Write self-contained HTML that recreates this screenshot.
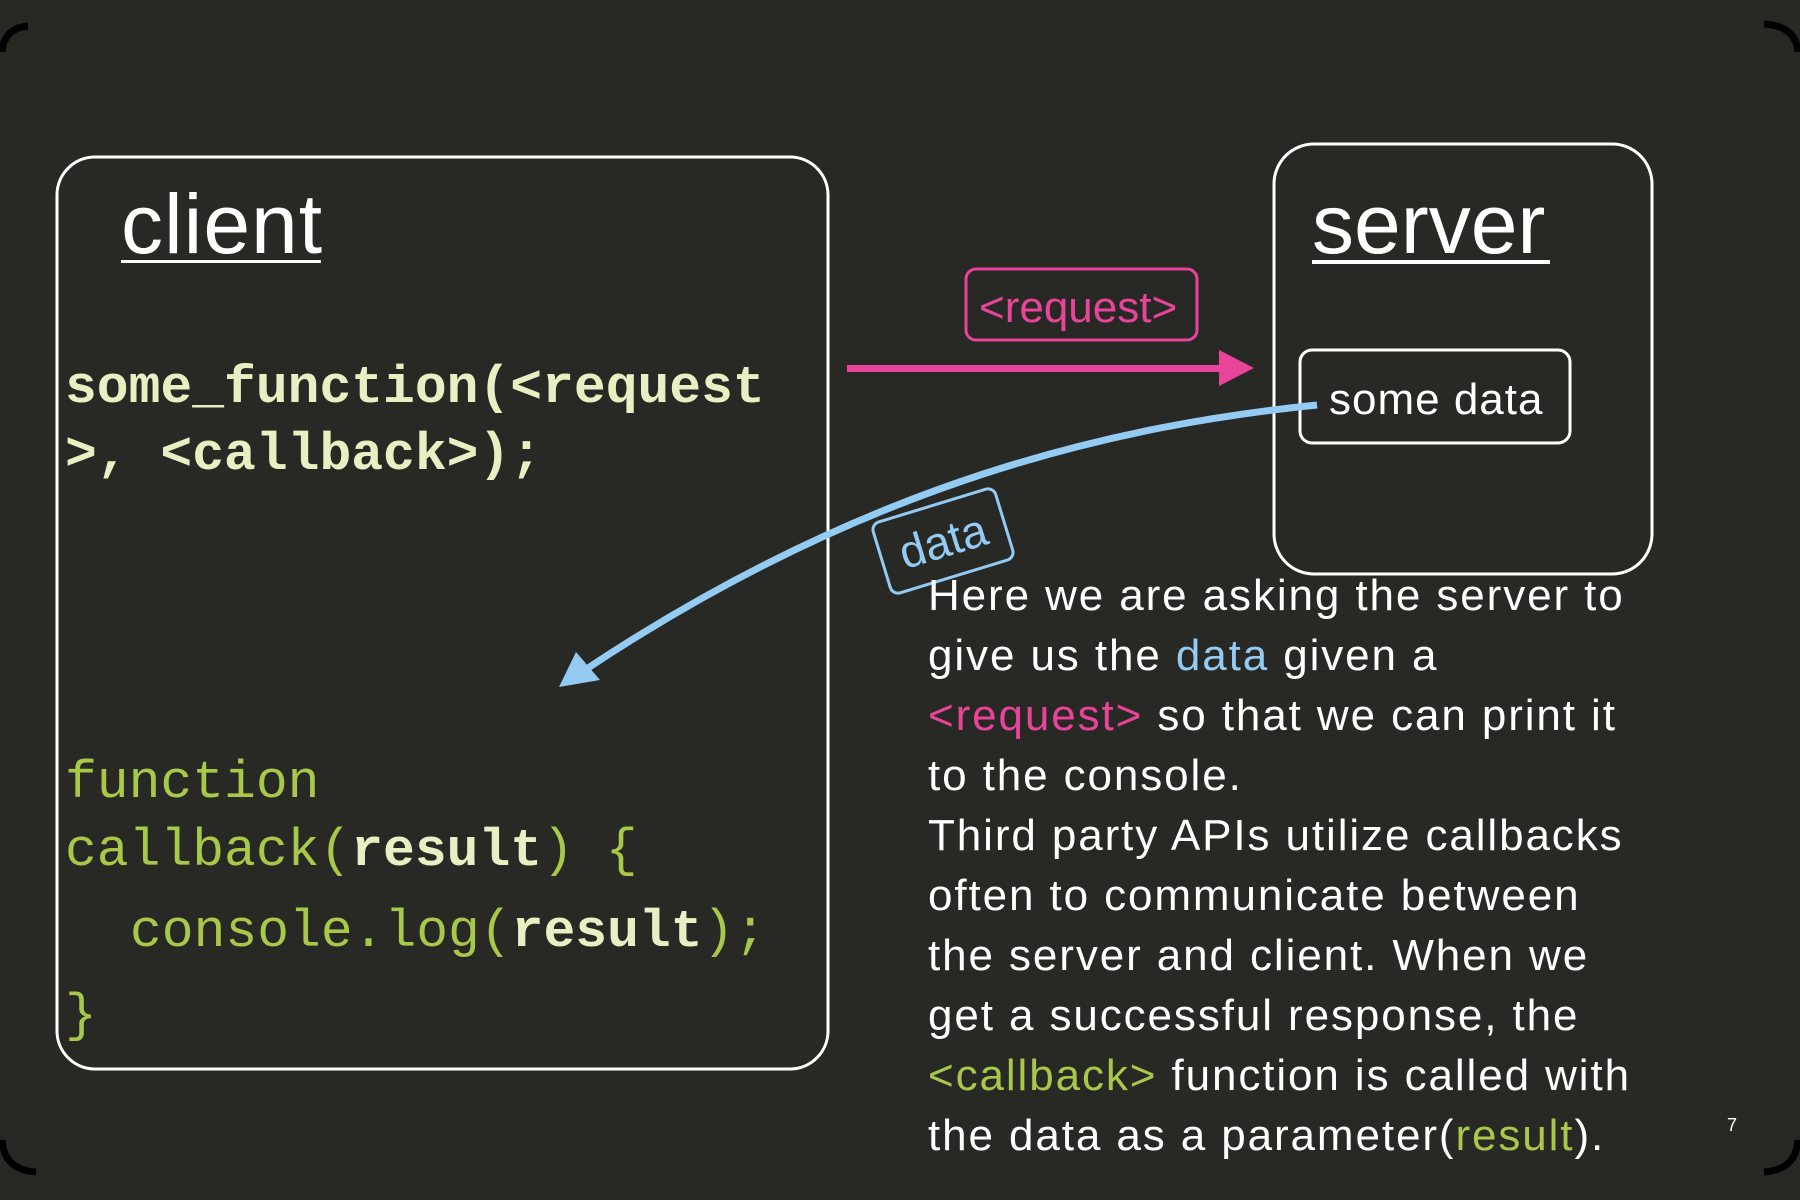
<!DOCTYPE html>
<html><head><meta charset="utf-8"><style>
html,body{margin:0;padding:0;background:#282825;}
svg{display:block}
</style></head><body>
<svg width="1800" height="1200" viewBox="0 0 1800 1200" xmlns="http://www.w3.org/2000/svg">
<rect width="1800" height="1200" fill="#282825"/>
<g fill="none" stroke="#000" stroke-width="7">
<path d="M28 26 Q4 28 2 52"/>
<path d="M1764 24 Q1796 26 1798 52"/>
<path d="M2 1140 Q4 1170 36 1172"/>
<path d="M1798 1140 Q1796 1170 1764 1172"/>
</g>
<rect x="57" y="157" width="771" height="912" rx="38" fill="none" stroke="#fff" stroke-width="3"/>
<text x="121" y="253" font-family="Liberation Sans, sans-serif" font-size="84" fill="#fff" letter-spacing="1">client</text>
<rect x="121" y="260" width="200" height="3" fill="#fff"/>
<g font-family="Liberation Mono, monospace" font-size="53" font-weight="bold" fill="#e6f0c3">
<text x="65" y="402">some_function(&lt;request</text>
<text x="65" y="469">&gt;, &lt;callback&gt;);</text>
</g>
<g font-family="Liberation Mono, monospace" font-size="53" fill="#a9c84a">
<text x="65" y="797">function</text>
<text x="65" y="865">callback(<tspan font-weight="bold" fill="#e6f0c3">result</tspan>) {</text>
<text x="130" y="946">console.log(<tspan font-weight="bold" fill="#e6f0c3">result</tspan>);</text>
<text x="65" y="1030">}</text>
</g>
<rect x="1274" y="144" width="378" height="430" rx="40" fill="none" stroke="#fff" stroke-width="3"/>
<text x="1312" y="253" font-family="Liberation Sans, sans-serif" font-size="84" fill="#fff">server</text>
<rect x="1312" y="260" width="238" height="4" fill="#fff"/>
<rect x="1300" y="350" width="270" height="93" rx="12" fill="none" stroke="#fff" stroke-width="3"/>
<text x="1329" y="414" font-family="Liberation Sans, sans-serif" font-size="44" fill="#fff" letter-spacing="1">some data</text>
<rect x="966" y="269" width="231" height="71" rx="10" fill="none" stroke="#e8449a" stroke-width="3"/>
<text x="979" y="322" font-family="Liberation Sans, sans-serif" font-size="44" fill="#e8449a">&lt;request&gt;</text>
<rect x="847" y="365" width="375" height="7" fill="#e8449a"/>
<polygon points="1219,350 1254,368 1219,386" fill="#e8449a"/>
<path d="M1317 405 C1120 425 870 480 585 670" fill="none" stroke="#94cbf3" stroke-width="7"/>
<polygon points="559,687 576,652 600,680" fill="#94cbf3"/>
<g transform="translate(943,541) rotate(-17)">
<rect x="-64" y="-37" width="128" height="74" rx="8" fill="#282825" stroke="#94cbf3" stroke-width="3"/>
<text x="0" y="16" text-anchor="middle" font-family="Liberation Sans, sans-serif" font-size="46" fill="#94cbf3">data</text>
</g>
<g font-family="Liberation Sans, sans-serif" font-size="44" fill="#fff" letter-spacing="1.9">
<text x="928" y="610">Here we are asking the server to</text>
<text x="928" y="670">give us the <tspan fill="#94cbf3">data</tspan> given a</text>
<text x="928" y="730"><tspan fill="#e8449a">&lt;request&gt;</tspan> so that we can print it</text>
<text x="928" y="790">to the console.</text>
<text x="928" y="850">Third party APIs utilize callbacks</text>
<text x="928" y="910">often to communicate between</text>
<text x="928" y="970">the server and client. When we</text>
<text x="928" y="1030">get a successful response, the</text>
<text x="928" y="1090"><tspan fill="#a9c84a">&lt;callback&gt;</tspan> function is called with</text>
<text x="928" y="1150">the data as a parameter(<tspan fill="#a9c84a">result</tspan>).</text>
</g>
<text x="1727" y="1131" font-family="Liberation Sans, sans-serif" font-size="18" fill="#fff">7</text>
</svg>
</body></html>
